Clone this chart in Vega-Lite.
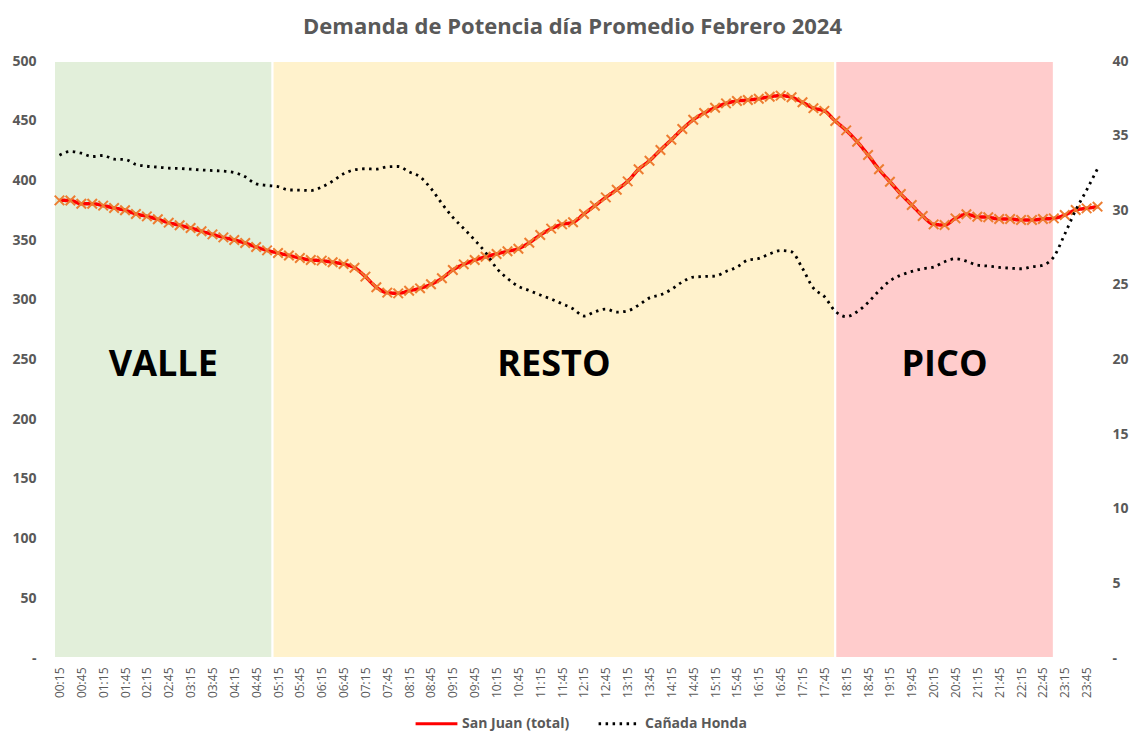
{
  "$schema": "https://vega.github.io/schema/vega-lite/v6.json",
  "width": 1049,
  "height": 597,
  "autosize": {"type": "none"},
  "padding": {"left": 54, "top": 61, "right": 33, "bottom": 73},
  "background": "white",
  "config": {"view": {"stroke": null}, "font": "Open Sans", "axis": {"labelOverlap": false}},
  "title": {
    "text": "Demanda de Potencia día Promedio Febrero 2024",
    "font": "Open Sans",
    "fontSize": 22,
    "fontWeight": "bold",
    "color": "#595959",
    "anchor": "middle",
    "dx": -6,
    "dy": 24,
    "baseline": "alphabetic",
    "offset": 22
  },
  "datasets": {
    "zonas": [
      {"zona": "VALLE", "h": 0.125, "h2": 5.125},
      {"zona": "RESTO", "h": 5.125, "h2": 18.0},
      {"zona": "PICO", "h": 18.0, "h2": 23.0}
    ],
    "demanda": [
      {"h": 0.25, "sj": 383.3, "ch": 33.69},
      {"h": 0.5, "sj": 383.2, "ch": 33.94},
      {"h": 0.75, "sj": 380.5, "ch": 33.82},
      {"h": 1.0, "sj": 380.5, "ch": 33.6},
      {"h": 1.25, "sj": 378.9, "ch": 33.67},
      {"h": 1.5, "sj": 376.9, "ch": 33.42},
      {"h": 1.75, "sj": 375.0, "ch": 33.4},
      {"h": 2.0, "sj": 371.9, "ch": 33.07},
      {"h": 2.25, "sj": 369.9, "ch": 32.95},
      {"h": 2.5, "sj": 367.4, "ch": 32.89},
      {"h": 2.75, "sj": 364.6, "ch": 32.82},
      {"h": 3.0, "sj": 362.4, "ch": 32.8},
      {"h": 3.25, "sj": 360.1, "ch": 32.75},
      {"h": 3.5, "sj": 357.4, "ch": 32.7},
      {"h": 3.75, "sj": 354.8, "ch": 32.66},
      {"h": 4.0, "sj": 352.3, "ch": 32.62},
      {"h": 4.25, "sj": 350.1, "ch": 32.53},
      {"h": 4.5, "sj": 347.6, "ch": 32.24},
      {"h": 4.75, "sj": 344.2, "ch": 31.77},
      {"h": 5.0, "sj": 341.4, "ch": 31.66},
      {"h": 5.25, "sj": 339.2, "ch": 31.58},
      {"h": 5.5, "sj": 337.1, "ch": 31.36},
      {"h": 5.75, "sj": 335.0, "ch": 31.35},
      {"h": 6.0, "sj": 333.3, "ch": 31.32},
      {"h": 6.25, "sj": 332.8, "ch": 31.55},
      {"h": 6.5, "sj": 331.4, "ch": 31.95},
      {"h": 6.75, "sj": 330.0, "ch": 32.44},
      {"h": 7.0, "sj": 326.9, "ch": 32.71},
      {"h": 7.25, "sj": 319.4, "ch": 32.78},
      {"h": 7.5, "sj": 310.5, "ch": 32.75},
      {"h": 7.75, "sj": 306.0, "ch": 32.91},
      {"h": 8.0, "sj": 305.4, "ch": 32.93},
      {"h": 8.25, "sj": 307.6, "ch": 32.57},
      {"h": 8.5, "sj": 309.6, "ch": 32.24},
      {"h": 8.75, "sj": 313.0, "ch": 31.46},
      {"h": 9.0, "sj": 318.0, "ch": 30.45},
      {"h": 9.25, "sj": 325.0, "ch": 29.52},
      {"h": 9.5, "sj": 329.7, "ch": 28.78},
      {"h": 9.75, "sj": 333.3, "ch": 28.0},
      {"h": 10.0, "sj": 336.1, "ch": 27.17},
      {"h": 10.25, "sj": 338.4, "ch": 26.12},
      {"h": 10.5, "sj": 340.6, "ch": 25.43},
      {"h": 10.75, "sj": 342.8, "ch": 24.9},
      {"h": 11.0, "sj": 347.8, "ch": 24.62},
      {"h": 11.25, "sj": 354.3, "ch": 24.32},
      {"h": 11.5, "sj": 359.6, "ch": 24.05},
      {"h": 11.75, "sj": 363.2, "ch": 23.73},
      {"h": 12.0, "sj": 364.9, "ch": 23.4},
      {"h": 12.25, "sj": 371.9, "ch": 22.91},
      {"h": 12.5, "sj": 378.8, "ch": 23.2},
      {"h": 12.75, "sj": 385.8, "ch": 23.38},
      {"h": 13.0, "sj": 392.2, "ch": 23.17},
      {"h": 13.25, "sj": 399.2, "ch": 23.26},
      {"h": 13.5, "sj": 409.3, "ch": 23.64},
      {"h": 13.75, "sj": 416.5, "ch": 24.13},
      {"h": 14.0, "sj": 425.5, "ch": 24.33},
      {"h": 14.25, "sj": 434.1, "ch": 24.69},
      {"h": 14.5, "sj": 443.0, "ch": 25.2},
      {"h": 14.75, "sj": 450.8, "ch": 25.52},
      {"h": 15.0, "sj": 456.4, "ch": 25.56},
      {"h": 15.25, "sj": 460.9, "ch": 25.59},
      {"h": 15.5, "sj": 464.5, "ch": 25.9},
      {"h": 15.75, "sj": 466.5, "ch": 26.19},
      {"h": 16.0, "sj": 467.3, "ch": 26.66},
      {"h": 16.25, "sj": 468.4, "ch": 26.77},
      {"h": 16.5, "sj": 470.1, "ch": 27.08},
      {"h": 16.75, "sj": 471.0, "ch": 27.3},
      {"h": 17.0, "sj": 469.6, "ch": 27.21},
      {"h": 17.25, "sj": 465.4, "ch": 26.1},
      {"h": 17.5, "sj": 460.5, "ch": 24.78},
      {"h": 17.75, "sj": 458.2, "ch": 24.22},
      {"h": 18.0, "sj": 449.7, "ch": 23.23},
      {"h": 18.25, "sj": 441.9, "ch": 22.87},
      {"h": 18.5, "sj": 432.4, "ch": 23.2},
      {"h": 18.75, "sj": 421.3, "ch": 23.82},
      {"h": 19.0, "sj": 409.3, "ch": 24.6},
      {"h": 19.25, "sj": 398.9, "ch": 25.27},
      {"h": 19.5, "sj": 388.6, "ch": 25.65},
      {"h": 19.75, "sj": 379.4, "ch": 25.9},
      {"h": 20.0, "sj": 370.2, "ch": 26.08},
      {"h": 20.25, "sj": 363.2, "ch": 26.19},
      {"h": 20.5, "sj": 362.6, "ch": 26.55},
      {"h": 20.75, "sj": 368.2, "ch": 26.75},
      {"h": 21.0, "sj": 371.6, "ch": 26.59},
      {"h": 21.25, "sj": 369.6, "ch": 26.32},
      {"h": 21.5, "sj": 369.1, "ch": 26.26},
      {"h": 21.75, "sj": 367.7, "ch": 26.17},
      {"h": 22.0, "sj": 367.7, "ch": 26.12},
      {"h": 22.25, "sj": 366.8, "ch": 26.08},
      {"h": 22.5, "sj": 366.8, "ch": 26.21},
      {"h": 22.75, "sj": 367.7, "ch": 26.32},
      {"h": 23.0, "sj": 368.2, "ch": 26.88},
      {"h": 23.25, "sj": 371.0, "ch": 28.4},
      {"h": 23.5, "sj": 375.2, "ch": 30.0},
      {"h": 23.75, "sj": 376.6, "ch": 31.35},
      {"h": 24.0, "sj": 378.0, "ch": 32.78}
    ]
  },
  "encoding": {
    "x": {
      "field": "h",
      "type": "quantitative",
      "scale": {"domain": [0.125, 24.125], "nice": false, "zero": false},
      "axis": {
        "title": null,
        "values": [0.25, 0.75, 1.25, 1.75, 2.25, 2.75, 3.25, 3.75, 4.25, 4.75, 5.25, 5.75, 6.25, 6.75, 7.25, 7.75, 8.25, 8.75, 9.25, 9.75, 10.25, 10.75, 11.25, 11.75, 12.25, 12.75, 13.25, 13.75, 14.25, 14.75, 15.25, 15.75, 16.25, 16.75, 17.25, 17.75, 18.25, 18.75, 19.25, 19.75, 20.25, 20.75, 21.25, 21.75, 22.25, 22.75, 23.25, 23.75],
        "labelExpr": "(floor(datum.value) < 10 ? '0' : '') + floor(datum.value) + ':' + ((datum.value % 1) < 0.5 ? '15' : '45')",
        "labelAngle": -90,
        "labelAlign": "right",
        "labelBaseline": "middle",
        "labelFont": "Open Sans",
        "labelFontSize": 12,
        "labelColor": "#595959",
        "labelPadding": 9,
        "labelOverlap": false,
        "labelSeparation": 0,
        "labelBound": false,
        "labelFlush": false,
        "ticks": false,
        "domain": false,
        "grid": false
      }
    }
  },
  "layer": [
    {
      "layer": [
        {
          "data": {"name": "zonas"},
          "mark": {"type": "rect", "stroke": "white", "strokeWidth": 2},
          "encoding": {
            "x2": {"field": "h2"},
            "y": {"datum": 0, "type": "quantitative"},
            "y2": {"datum": 500},
            "fill": {
              "field": "zona",
              "type": "nominal",
              "scale": {"domain": ["VALLE", "RESTO", "PICO"], "range": ["#E2EFDA", "#FFF2CC", "#FFCCCC"]},
              "legend": null
            }
          }
        },
        {
          "data": {"name": "zonas"},
          "transform": [{"calculate": "(datum.h + datum.h2) / 2", "as": "h"}],
          "mark": {"type": "text", "font": "Open Sans", "fontSize": 36, "fontWeight": "bold", "color": "#000000", "baseline": "middle", "align": "center"},
          "encoding": {
            "y": {"datum": 245, "type": "quantitative"},
            "text": {"field": "zona"}
          }
        },
        {
          "data": {"name": "demanda"},
          "mark": {"type": "line", "strokeWidth": 3.5, "interpolate": "monotone"},
          "encoding": {
            "y": {
              "field": "sj",
              "type": "quantitative",
              "scale": {"domain": [0, 500], "nice": false},
              "axis": {
                "title": null,
                "values": [0, 50, 100, 150, 200, 250, 300, 350, 400, 450, 500],
                "labelExpr": "datum.value == 0 ? '-' : datum.label",
                "labelFont": "Open Sans",
                "labelFontWeight": "bold",
                "labelFontSize": 14,
                "labelColor": "#595959",
                "labelPadding": 18,
                "ticks": false,
                "domain": false,
                "gridColor": "#BFBFBF",
                "gridOpacity": 0.6,
                "zindex": 1
              }
            },
            "color": {
              "datum": "San Juan (total)",
              "type": "nominal",
              "scale": {"domain": ["San Juan (total)", "Cañada Honda"], "range": ["#FF0000", "#000000"]},
              "legend": {
                "orient": "none",
                "legendX": 360,
                "legendY": 640,
                "direction": "horizontal",
                "title": null,
                "symbolType": "stroke",
                "symbolSize": 1750,
                "symbolStrokeWidth": 3,
                "labelFont": "Open Sans",
                "labelFontWeight": "bold",
                "labelFontSize": 14,
                "labelColor": "#595959",
                "columnPadding": 22,
                "labelOffset": 3
              }
            },
            "strokeDash": {
              "datum": "San Juan (total)",
              "type": "nominal",
              "scale": {"domain": ["San Juan (total)", "Cañada Honda"], "range": [[1, 0], [2.5, 4.5]]},
              "legend": {
                "orient": "none",
                "legendX": 360,
                "legendY": 640,
                "direction": "horizontal",
                "title": null,
                "symbolType": "stroke",
                "symbolSize": 1750,
                "symbolStrokeWidth": 3,
                "labelFont": "Open Sans",
                "labelFontWeight": "bold",
                "labelFontSize": 14,
                "labelColor": "#595959",
                "columnPadding": 22,
                "labelOffset": 3
              }
            }
          }
        },
        {
          "data": {"name": "demanda"},
          "mark": {"type": "point", "shape": "M-1,-1L1,1M1,-1L-1,1", "filled": false, "size": 90, "stroke": "#ED7D31", "strokeWidth": 2, "opacity": 1},
          "encoding": {
            "y": {"field": "sj", "type": "quantitative"}
          }
        }
      ]
    },
    {
      "data": {"name": "demanda"},
      "mark": {"type": "line", "strokeWidth": 2.8, "interpolate": "monotone"},
      "encoding": {
        "y": {
          "field": "ch",
          "type": "quantitative",
          "scale": {"domain": [0, 40], "nice": false},
          "axis": {
            "orient": "right",
            "title": null,
            "values": [0, 5, 10, 15, 20, 25, 30, 35, 40],
            "labelExpr": "datum.value == 0 ? '-' : datum.label",
            "labelFont": "Open Sans",
            "labelFontWeight": "bold",
            "labelFontSize": 14,
            "labelColor": "#595959",
            "labelPadding": 9,
            "ticks": false,
            "domain": false,
            "grid": false
          }
        },
        "color": {"datum": "Cañada Honda", "type": "nominal"},
        "strokeDash": {"datum": "Cañada Honda", "type": "nominal"}
      }
    }
  ],
  "resolve": {"scale": {"y": "independent"}}
}
